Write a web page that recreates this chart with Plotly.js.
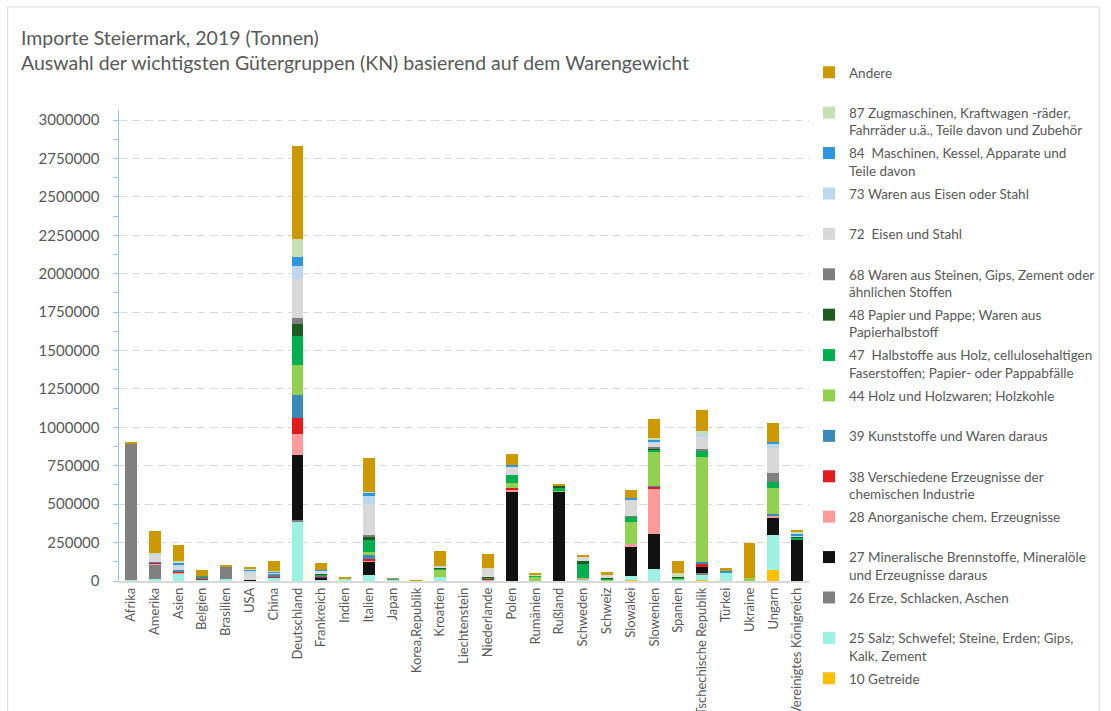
<!DOCTYPE html>
<html>
<head>
<meta charset="utf-8">
<script src="https://cdn.plot.ly/plotly-3.0.1.min.js"></script>
<style>html,body{margin:0;padding:0;background:#fff;}#chart{width:1111px;height:711px;}</style>
</head>
<body>
<div id="chart"></div>
<script>
const countries = ["Afrika","Amerika","Asien","Belgien","Brasilien","USA","China","Deutschland","Frankreich","Indien","Italien","Japan","Korea,Republik","Kroatien","Liechtenstein","Niederlande","Polen","Rumänien","Rußland","Schweden","Schweiz","Slowakei","Slowenien","Spanien","Tschechische Republik","Türkei","Ukraine","Ungarn","Vereinigtes Königreich"];

const getreide   = [0,0,0,0,0,0,0,0,0,0,0,0,0,0,0,0,0,0,0,0,0,7000,0,3000,9000,0,0,72000,0];
const salz       = [7000,13000,46000,5000,13000,0,22000,382000,5000,13000,37000,5000,0,24000,0,0,0,3000,0,4000,3000,28000,80000,5000,30000,50000,0,226000,0];
const erze       = [885000,90000,0,0,80000,0,0,13000,0,0,0,0,0,0,0,0,3000,0,0,0,0,0,0,0,15000,0,0,0,0];
const mineral    = [0,2000,0,4000,0,9000,0,427000,12000,0,89000,0,0,0,0,3000,578000,0,578000,0,0,189000,226000,0,35000,0,0,113000,269000];
const anorg      = [0,3000,8000,0,0,0,0,132000,0,0,7000,0,0,0,0,4000,11000,0,0,7000,0,17000,293000,0,0,0,0,15000,0];
const chemie     = [0,10000,7000,4000,0,0,6000,106000,6000,0,11000,0,0,0,0,5000,11000,0,0,0,0,0,11000,0,24000,0,0,0,0];
const kunst      = [0,3000,11000,5000,0,0,11000,152000,8000,0,26000,0,0,5000,0,0,0,0,0,0,0,0,7000,0,9000,0,0,11000,0];
const holz       = [0,0,0,4000,0,0,0,191000,0,0,20000,0,0,41000,0,0,37000,26000,9000,7000,6000,141000,221000,4000,685000,0,17000,165000,0];
const halbstoffe = [0,0,0,4000,0,0,0,189000,8000,0,80000,0,0,6000,0,8000,50000,5000,20000,93000,5000,33000,15000,8000,39000,0,0,43000,11000];
const papier     = [0,0,0,0,0,0,0,80000,5000,0,17000,0,0,7000,0,7000,0,0,9000,17000,8000,0,7000,4000,0,0,0,0,9000];
const steine     = [0,0,0,5000,0,0,6000,39000,0,0,11000,0,0,0,0,0,0,0,0,0,0,9000,9000,0,11000,0,0,56000,0];
const eisen      = [0,48000,22000,0,0,46000,0,256000,13000,0,202000,0,0,5000,0,52000,54000,0,0,28000,15000,100000,26000,0,82000,0,0,167000,0];
const warenEisen = [0,5000,7000,0,0,11000,4000,80000,8000,0,54000,3000,0,10000,0,0,0,0,0,0,0,0,7000,0,17000,0,0,22000,7000];
const maschinen  = [0,3000,17000,0,0,6000,8000,61000,5000,0,17000,8000,0,0,0,0,11000,0,0,0,0,13000,17000,0,0,13000,0,13000,13000];
const zug        = [0,7000,11000,4000,0,8000,9000,119000,0,0,11000,0,0,0,0,3000,0,5000,0,0,0,0,11000,28000,20000,0,0,0,9000];
const andere     = [15000,139000,106000,36000,13000,9000,67000,607000,45000,11000,217000,6000,8000,100000,0,91000,72000,15000,13000,11000,20000,56000,126000,80000,137000,24000,228000,124000,15000];

const seriesNames = [
  "10 Getreide<br> ",
  "25 Salz; Schwefel; Steine, Erden; Gips,<br>Kalk, Zement",
  "26 Erze, Schlacken, Aschen<br> ",
  "27 Mineralische Brennstoffe, Mineralöle<br>und Erzeugnisse daraus",
  "28 Anorganische chem. Erzeugnisse<br> ",
  "38 Verschiedene Erzeugnisse der<br>chemischen Industrie",
  "39 Kunststoffe und Waren daraus<br> ",
  "44 Holz und Holzwaren; Holzkohle<br> ",
  "47  Halbstoffe aus Holz, cellulosehaltigen<br>Faserstoffen; Papier- oder Pappabfälle",
  "48 Papier und Pappe; Waren aus<br>Papierhalbstoff",
  "68 Waren aus Steinen, Gips, Zement oder<br>ähnlichen Stoffen",
  "72  Eisen und Stahl<br> ",
  "73 Waren aus Eisen oder Stahl<br> ",
  "84  Maschinen, Kessel, Apparate und<br>Teile davon",
  "87 Zugmaschinen, Kraftwagen -räder,<br>Fahrräder u.ä., Teile davon und Zubehör",
  "Andere<br> "
];
const seriesValues = [getreide,salz,erze,mineral,anorg,chemie,kunst,holz,halbstoffe,papier,steine,eisen,warenEisen,maschinen,zug,andere];
const seriesColors = ["#FFC000","#9BF2E1","#808080","#111111","#FF9B9B","#E31B1D","#3B89B9","#92D050","#00B050","#1F5C1F","#7F7F7F","#D9D9D9","#BDD7EE","#2E96DE","#C5E0B4","#CC9900"];

const traces = seriesValues.map((vals, i) => ({
  type: "bar",
  x: countries,
  y: vals,
  name: seriesNames[i],
  legendgroup: "g" + i,
  legendrank: 100 - i,
  marker: {color: seriesColors[i]},
  hoverinfo: "x+y+name"
}));

const F = "Lato, 'Open Sans', sans-serif";
const L = 119, R = 813, T = 110, B = 581;
const pw = R - L, ph = B - T;
const px = v => (v - L) / pw;
const py = v => (B - v) / ph;

const layout = {
  width: 1111, height: 711,
  margin: {l: L, r: 1111 - R, t: T, b: 711 - B, pad: 0},
  paper_bgcolor: "#ffffff",
  plot_bgcolor: "#ffffff",
  barmode: "stack",
  bargap: 0.5,
  font: {family: F, color: "#595959"},
  title: {
    text: "Importe Steiermark, 2019 (Tonnen)<br>Auswahl der wichtigsten Gütergruppen (KN) basierend auf dem Warengewicht",
    font: {family: F, size: 19.5, color: "#595959"},
    x: 21 / 1111, xanchor: "left", xref: "container",
    y: 1 - 45 / 711, yanchor: "top", yref: "container"
  },
  xaxis: {
    tickangle: -90,
    tickfont: {family: F, size: 13, color: "#595959"},
    showline: true, linecolor: "#D9D9D9", linewidth: 1.5,
    showgrid: false, zeroline: false, ticks: "",
    fixedrange: true
  },
  yaxis: {
    range: [0, 3000000 * ph / 461],
    dtick: 250000, tick0: 0,
    tickformat: "d",
    tickfont: {family: F, size: 15, color: "#595959"},
    showline: true, linecolor: "#9DC3E6", linewidth: 1.5,
    ticks: "outside", ticklen: 5, tickcolor: "#9DC3E6", tickwidth: 1,
    minor: {dtick: 125000, ticks: "outside", ticklen: 5, tickcolor: "#9DC3E6", showgrid: false},
    showgrid: true, gridcolor: "#D9D9D9", gridwidth: 1, griddash: "8px,5px",
    zeroline: false, ticklabelstandoff: 10,
    fixedrange: true
  },
  legend: {
    x: 809 / 1111, xanchor: "left", xref: "container",
    y: 1 - 57 / 711, yanchor: "top", yref: "container",
    traceorder: "grouped",
    tracegroupgap: 2.3,
    valign: "top",
    maxheight: 700,
    font: {family: F, size: 13.5, color: "#595959"},
    bgcolor: "rgba(0,0,0,0)"
  },
  shapes: [{
    type: "rect", xref: "paper", yref: "paper",
    x0: px(7), x1: px(1105), y0: py(730), y1: py(7),
    line: {color: "#D9D9D9", width: 1}, fillcolor: "rgba(0,0,0,0)", layer: "below"
  }]
};

Plotly.newPlot("chart", traces, layout, {displayModeBar: false, staticPlot: true});
</script>
</body>
</html>
